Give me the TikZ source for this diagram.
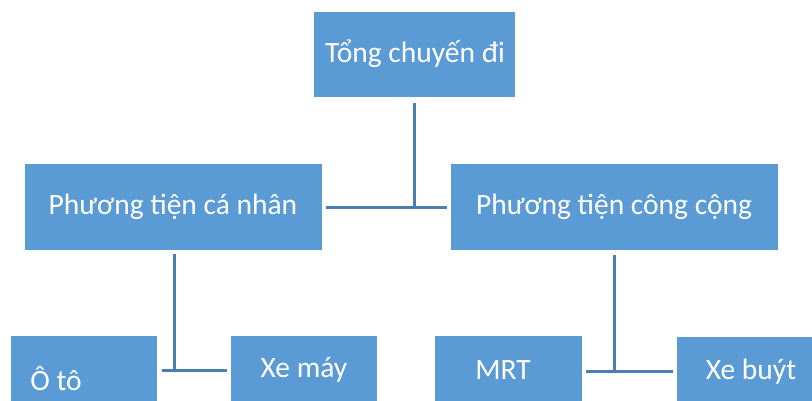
\documentclass[tikz,border=0pt]{standalone}
\usepackage{fontspec}
\setmainfont{Carlito}
\usetikzlibrary{calc}
\begin{document}
\begin{tikzpicture}[x=1pt,y=-1pt,
  box/.style={draw=none,fill=boxblue,rectangle,inner sep=0pt,anchor=north west},
  lbl/.style={text=white,font=\fontsize{29.5}{33}\selectfont,inner sep=0pt},
  conn/.style={draw=connblue,line width=3pt}]
\definecolor{boxblue}{HTML}{5B9BD5}
\definecolor{connblue}{HTML}{4A7DB0}
\clip (0,0) rectangle (812,400);
\fill[white] (0,0) rectangle (812,400);
% boxes
\node[box,minimum width=201pt,minimum height=85pt] (top) at (314,12) {};
\node[box,minimum width=297pt,minimum height=86pt] (left) at (25,164) {};
\node[box,minimum width=327pt,minimum height=86pt] (right) at (451,164) {};
\node[box,minimum width=146pt,minimum height=80pt] (oto) at (11,336) {};
\node[box,minimum width=146pt,minimum height=80pt] (xemay) at (231,336) {};
\node[box,minimum width=147pt,minimum height=80pt] (mrt) at (435,336) {};
\node[box,minimum width=140pt,minimum height=80pt] (xebuyt) at (677,337) {};
% labels
\node[lbl] (ttop) at (415,54) {Tổng chuyến đi};
\node[lbl] (tleft) at (173,207) {Phương tiện cá nhân};
\node[lbl] (tright) at (614,207) {Phương tiện công cộng};
\node[lbl] (toto) at (56,379) {Ô tô};
\node[lbl] (txemay) at (304,370) {Xe máy};
\node[lbl] (tmrt) at (503,370) {MRT};
\node[lbl] (txebuyt) at (751,372) {Xe buýt};
% connectors
\coordinate (j1) at (414,207);
\coordinate (j2) at (174,370);
\coordinate (j3) at (614,371);
\draw[conn] ([yshift=-6pt]top.south -| j1) -- (j1);
\draw[conn] ([xshift=4pt]left.east |- j1) -- ([xshift=-4pt]right.west |- j1);
\draw[conn] ([yshift=-4pt]left.south -| j2) -- (j2);
\draw[conn] ([xshift=5pt]oto.east |- j2) -- ([xshift=-4pt]xemay.west |- j2);
\draw[conn] ([yshift=-5pt]right.south -| j3) -- (j3);
\draw[conn] ([xshift=4pt]mrt.east |- j3) -- ([xshift=-4pt]xebuyt.west |- j3);
\end{tikzpicture}
\end{document}
